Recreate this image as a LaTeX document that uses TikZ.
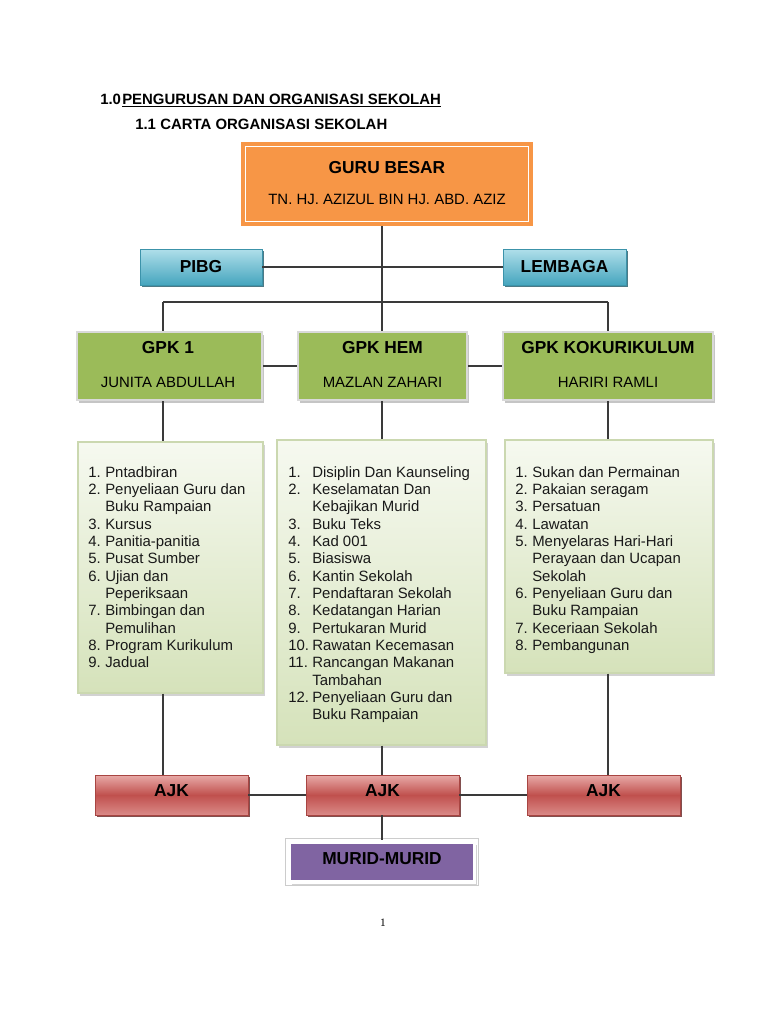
\documentclass[tikz,border=0pt]{standalone}
\usepackage{fontspec}
\setmainfont{Liberation Sans}
\newfontfamily\pgserif{Liberation Serif}
\usetikzlibrary{shadows,calc}
\definecolor{orng}{HTML}{F79646}
\definecolor{gpkgreen}{HTML}{9BBB59}
\definecolor{lsttop}{HTML}{F6F9F0}
\definecolor{lstbot}{HTML}{D5E2BA}
\definecolor{lstdraw}{HTML}{CBD8B0}
\definecolor{bltop}{HTML}{B0DFEA}
\definecolor{blbot}{HTML}{45A5BE}
\definecolor{bldraw}{HTML}{3C93AA}
\definecolor{blshadow}{HTML}{215968}
\definecolor{rdtop}{HTML}{E8AAA8}
\definecolor{rdmid}{HTML}{C0504D}
\definecolor{rdbot}{HTML}{DA8A88}
\definecolor{rddraw}{HTML}{A84542}
\definecolor{rdshadow}{HTML}{632423}
\definecolor{purp}{HTML}{8064A2}
\definecolor{linecol}{HTML}{3A3A3A}
\newcommand\hdfont{\fontsize{11.2}{13}\selectfont\bfseries}
\newcommand\ttlfont{\fontsize{13}{15}\selectfont\bfseries}
\newcommand\nmfont{\fontsize{11.2}{13}\selectfont}
\def\px{0.75pt}
\begin{document}
\begin{tikzpicture}[x=0.75pt,y=-0.75pt,
  conn/.style={draw=linecol, line width=1pt},
  obox/.style={rectangle, fill=orng, draw=none, inner sep=0},
  gbox/.style={rectangle, fill=gpkgreen, draw=white!85!black, line width=1.6pt, inner sep=0,
    drop shadow={shadow xshift=1.6pt, shadow yshift=-2.2pt, opacity=0.45}},
  lbox/.style={rectangle, top color=lsttop, bottom color=lstbot, draw=lstdraw, line width=0.8pt, inner sep=0,
    drop shadow={shadow xshift=1.6pt, shadow yshift=-2.2pt, opacity=0.35}},
  bbox/.style={rectangle, top color=bltop, bottom color=blbot, draw=bldraw, line width=0.6pt, inner sep=0,
    drop shadow={shadow xshift=1.5pt, shadow yshift=-1.8pt, fill=blshadow, opacity=0.8}},
  rbox/.style={rectangle, top color=rdtop, bottom color=rdbot, middle color=rdmid, draw=rddraw, line width=0.6pt, inner sep=0,
    drop shadow={shadow xshift=1.5pt, shadow yshift=-1.8pt, fill=rdshadow, opacity=0.8}},
  pbox/.style={rectangle, fill=purp, draw=white, line width=2.4pt, inner sep=0,
    drop shadow={shadow xshift=1.5pt, shadow yshift=-2pt, opacity=0.35}},
  ttl/.style={inner sep=0, font=\ttlfont, text=black},
  nm/.style={inner sep=0, font=\nmfont, text=black},
  lst/.style={anchor=base west, inner sep=0, font=\nmfont, text=black!90}
]
\useasboundingbox (0,0) rectangle (768,1024);
\fill[white] (0,0) rectangle (768,1024);

% headings
\node[anchor=base west, inner sep=0, font=\hdfont] (h1) at (100,104)
  {\makebox[16.5pt][l]{1.0}\underline{PENGURUSAN DAN ORGANISASI SEKOLAH}};
\node[anchor=base west, inner sep=0, font=\hdfont] (h2) at (135,129)
  {\makebox[18.75pt][l]{1.1}CARTA ORGANISASI SEKOLAH};

% coordinates for the bus
\coordinate (busL) at (163,302);
\coordinate (busC) at (382,302);
\coordinate (busR) at (608,302);

% Guru Besar
\node[obox, minimum width=292*\px, minimum height=84*\px] (guru) at (387,184) {};
\draw[white, line width=1.1pt] ($(guru.north west)+(5,5)$) rectangle ($(guru.south east)+(-5,-5)$);
\node[ttl] (guruT) at (387,168) {GURU BESAR};
\node[nm] (guruN) at (387,199) {TN. HJ. AZIZUL BIN HJ. ABD. AZIZ};

% PIBG / LEMBAGA
\node[bbox, minimum width=122*\px, minimum height=36*\px, font=\ttlfont] (pibg) at (201,267) {PIBG};
\node[bbox, minimum width=123*\px, minimum height=36*\px, font=\ttlfont] (lembaga) at (564.5,267) {LEMBAGA};

% GPK boxes
\node[gbox, minimum width=185*\px, minimum height=68*\px] (gpk1) at (169.5,366) {};
\node[gbox, minimum width=169*\px, minimum height=68*\px] (gpkhem) at (382.5,366) {};
\node[gbox, minimum width=210*\px, minimum height=68*\px] (gpkkok) at (608,366) {};
\node[ttl] (gpk1T) at (168,348) {GPK 1};
\node[nm] (gpk1N) at (168,382) {JUNITA ABDULLAH};
\node[ttl] (gpkhemT) at (382.5,348) {GPK HEM};
\node[nm] (gpkhemN) at (382.5,382) {MAZLAN ZAHARI};
\node[ttl] (gpkkokT) at (608,348) {GPK KOKURIKULUM};
\node[nm] (gpkkokN) at (608,382) {HARIRI RAMLI};

% list boxes
\node[lbox, minimum width=185*\px, minimum height=251*\px] (list1) at (170.5,567.5) {};
\node[lbox, minimum width=209*\px, minimum height=305*\px] (list2) at (381.5,592.5) {};
\node[lbox, minimum width=208*\px, minimum height=233*\px] (list3) at (609,556.5) {};

\node[lst] (list1T) at (88,477) {\begin{tabular}[t]{@{}p{12.75pt}@{}l@{}}
1. & Pntadbiran\\
2. & Penyeliaan Guru dan\\
   & Buku Rampaian\\
3. & Kursus\\
4. & Panitia-panitia\\
5. & Pusat Sumber\\
6. & Ujian dan\\
   & Peperiksaan\\
7. & Bimbingan dan\\
   & Pemulihan\\
8. & Program Kurikulum\\
9. & Jadual
\end{tabular}};

\node[lst] (list2T) at (288,477) {\begin{tabular}[t]{@{}p{18pt}@{}l@{}}
1. & Disiplin Dan Kaunseling\\
2. & Keselamatan Dan\\
   & Kebajikan Murid\\
3. & Buku Teks\\
4. & Kad 001\\
5. & Biasiswa\\
6. & Kantin Sekolah\\
7. & Pendaftaran Sekolah\\
8. & Kedatangan Harian\\
9. & Pertukaran Murid\\
10. & Rawatan Kecemasan\\
11. & Rancangan Makanan\\
    & Tambahan\\
12. & Penyeliaan Guru dan\\
    & Buku Rampaian
\end{tabular}};

\node[lst] (list3T) at (515,477) {\begin{tabular}[t]{@{}p{12.75pt}@{}l@{}}
1. & Sukan dan Permainan\\
2. & Pakaian seragam\\
3. & Persatuan\\
4. & Lawatan\\
5. & Menyelaras Hari-Hari\\
   & Perayaan dan Ucapan\\
   & Sekolah\\
6. & Penyeliaan Guru dan\\
   & Buku Rampaian\\
7. & Keceriaan Sekolah\\
8. & Pembangunan
\end{tabular}};

% AJK boxes
\node[rbox, minimum width=153*\px, minimum height=40*\px] (ajk1) at (171.5,795) {};
\node[rbox, minimum width=153*\px, minimum height=40*\px] (ajk2) at (382.5,795) {};
\node[rbox, minimum width=153*\px, minimum height=40*\px] (ajk3) at (603.5,795) {};
\node[ttl] (ajk1T) at (171.5,791) {AJK};
\node[ttl] (ajk2T) at (382.5,791) {AJK};
\node[ttl] (ajk3T) at (603.5,791) {AJK};

% Murid
\node[pbox, minimum width=185*\px, minimum height=40*\px] (murid) at (382,862) {};
\draw[black!20, line width=0.5pt] ($(murid.north west)+(-2.2,-2.2)$) rectangle ($(murid.south east)+(2.2,2.2)$);
\node[ttl] (muridT) at (382,859) {MURID-MURID};

% page number
\node[inner sep=0, font=\pgserif\fontsize{8.5}{10}\selectfont] (pg) at (383,923) {1};

% connectors
\draw[conn] (pibg.east) -- (lembaga.west);
\draw[conn] (guru.south -| busC) -- (busC);
\draw[conn] (busL) -- (busR);
\draw[conn] (busL) -- (gpk1.north -| busL);
\draw[conn] (busC) -- (gpkhem.north -| busC);
\draw[conn] (busR) -- (gpkkok.north -| busR);
\draw[conn] (gpk1.east) -- (gpkhem.west);
\draw[conn] (gpkhem.east) -- (gpkkok.west);
\draw[conn] (gpk1.south -| busL) -- (list1.north -| busL);
\draw[conn] (gpkhem.south -| busC) -- (list2.north -| busC);
\draw[conn] (gpkkok.south -| busR) -- (list3.north -| busR);
\draw[conn] (list1.south -| busL) -- (ajk1.north -| busL);
\draw[conn] (list2.south -| busC) -- (ajk2.north -| busC);
\draw[conn] (list3.south -| busR) -- (ajk3.north -| busR);
\draw[conn] (ajk1.east) -- (ajk2.west);
\draw[conn] (ajk2.east) -- (ajk3.west);
\draw[conn] (ajk2.south -| busC) -- (murid.north -| busC);
\end{tikzpicture}
\end{document}
